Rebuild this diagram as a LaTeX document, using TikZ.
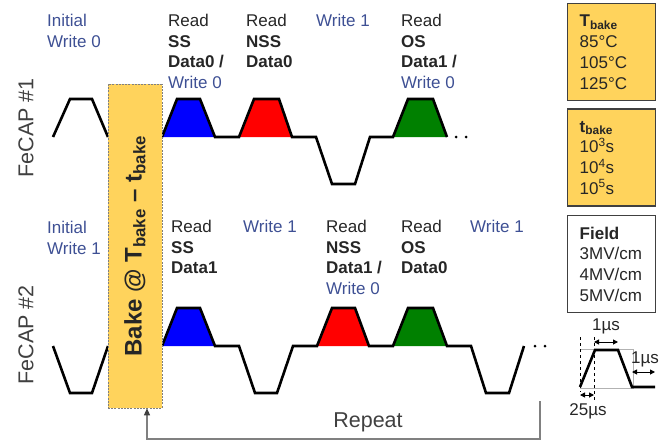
\documentclass[tikz,border=0pt]{standalone}
\usepackage{fontspec}
\setmainfont{Liberation Sans}
\usetikzlibrary{positioning,arrows.meta}

\definecolor{txtdark}{RGB}{38,38,38}
\definecolor{capgray}{RGB}{64,64,64}
\definecolor{wrblue}{RGB}{62,80,148}
\definecolor{bakeyellow}{RGB}{255,211,92}
\definecolor{rptgray}{RGB}{128,128,128}
\definecolor{pgreen}{RGB}{0,128,0}

\tikzset{
	lbl/.style={anchor=north west, inner sep=0pt, align=left, text=txtdark, font=\fontsize{17}{20.7}\selectfont},
	wlbl/.style={lbl, text=wrblue},
	wave/.style={line width=2.6pt, black},
	capname/.style={rotate=90, text=capgray, font=\fontsize{21.5}{24}\selectfont},
	parambox/.style={draw=capgray, line width=1.4pt, minimum width=88pt, minimum height=97pt, text width=64pt, inner xsep=12pt, align=left, text=txtdark, font=\fontsize{17}{20.7}\selectfont},
	bakebar/.style={fill=bakeyellow, draw=gray, dash pattern=on 2pt off 1.2pt, line width=0.6pt, minimum width=54pt, minimum height=324pt, inner sep=0pt, text=txtdark, font=\fontsize{24}{28}\selectfont\bfseries},
	dimarrow/.style={{Triangle[length=5pt,width=5pt]}-{Triangle[length=5pt,width=5pt]}, line width=1pt},
	dimlbl/.style={inner sep=0pt, text=txtdark, font=\fontsize{17}{19}\selectfont}
}

\begin{document}
\begin{tikzpicture}[x=1pt, y=-1pt]
	\useasboundingbox (0,0) rectangle (667,445);

	% FeCAP #1 pulses
	\fill[blue] (162,137) -- (177,99) -- (200,99) -- (215,137) -- cycle;
	\fill[red] (239,137) -- (254,99) -- (279,99) -- (292,137) -- cycle;
	\fill[pgreen] (393,137) -- (408,99) -- (433,99) -- (447,137) -- cycle;
	\draw[wave] (53,137) -- (70,99) -- (92,99) -- (108,137);
	\draw[wave] (162,137) -- (177,99) -- (200,99) -- (215,137) -- (239,137)
		-- (254,99) -- (279,99) -- (292,137) -- (316,137) -- (332,184) -- (355,184)
		-- (370,137) -- (393,137) -- (408,99) -- (433,99) -- (447,137);
	\fill (456,137) circle (1.5) (466,137) circle (1.5);

	% FeCAP #2 pulses
	\fill[blue] (162,346) -- (177,308) -- (200,308) -- (215,346) -- cycle;
	\fill[red] (317,346) -- (332,308) -- (355,308) -- (369,346) -- cycle;
	\fill[pgreen] (393,346) -- (408,308) -- (433,308) -- (447,346) -- cycle;
	\draw[wave] (53,346) -- (70,393) -- (92,393) -- (108,346);
	\draw[wave] (162,346) -- (177,308) -- (200,308) -- (215,346) -- (239,346)
		-- (255,393) -- (277,393) -- (293,346) -- (317,346) -- (332,308) -- (355,308)
		-- (369,346) -- (393,346) -- (408,308) -- (433,308) -- (447,346) -- (471,346)
		-- (486,393) -- (509,393) -- (524,346);
	\fill (535,346) circle (1.5) (545,346) circle (1.5);

	% bake
	\node[bakebar] (bake) at (135,246) {\rotatebox{90}{Bake @ T\textsubscript{bake} – t\textsubscript{bake}}};

	% capacitor names
	\node[capname] (cap1) at (26,128) {FeCAP \#1};
	\node[capname] (cap2) at (26,335) {FeCAP \#2};

	% operations, FeCAP #1
	\node[wlbl] (init1) at (47,13.8) {Initial\\Write 0};
	\node[lbl] (rd1) at (168,13.8) {Read\\\textbf{SS}\\\textbf{Data0 /}\\\textcolor{wrblue}{Write 0}};
	\node[lbl] (rd2) at (246,13.8) {Read\\\textbf{NSS}\\\textbf{Data0}};
	\node[wlbl] (wr1) at (316,13.8) {Write 1};
	\node[lbl] (rd3) at (401,13.8) {Read\\\textbf{OS}\\\textbf{Data1 /}\\\textcolor{wrblue}{Write 0}};

	% operations, FeCAP #2
	\node[wlbl] (init2) at (47,220.8) {Initial\\Write 1};
	\node[lbl] (rd4) at (171,219.8) {Read\\\textbf{SS}\\\textbf{Data1}};
	\node[wlbl] (wr2) at (243,219.8) {Write 1};
	\node[lbl] (rd5) at (326,219.8) {Read\\\textbf{NSS}\\\textbf{Data1 /}\\\textcolor{wrblue}{Write 0}};
	\node[lbl] (rd6) at (401,219.8) {Read\\\textbf{OS}\\\textbf{Data0}};
	\node[wlbl] (wr3) at (470,219.8) {Write 1};

	% conditions
	\node[parambox, fill=bakeyellow, anchor=north west] (tbakebox) at (567,3) {\textbf{T\textsubscript{bake}}\\85°C\\105°C\\125°C};
	\node[parambox, fill=bakeyellow, below=7pt of tbakebox] (tbox) {\textbf{t\textsubscript{bake}}\\10\textsuperscript{3}s\\10\textsuperscript{4}s\\10\textsuperscript{5}s};
	\node[parambox, fill=white, below=8pt of tbox] (fieldbox) {\textbf{Field}\\3MV/cm\\4MV/cm\\5MV/cm};

	% pulse timing
	\draw[black!30, line width=0.8pt] (580,349) -- (633,349) -- (633,388) -- (580,388);
	\draw[black, dashed, line width=0.6pt] (580,337) -- (580,392);
	\draw[black, dashed, line width=0.6pt] (594,337) -- (594,400);
	\draw[wave] (580,387) -- (595,350) -- (618,350) -- (632,387) -- (655,387);
	\coordinate (riseL) at (580,395);
	\coordinate (riseR) at (594,395);
	\coordinate (topL) at (594,342);
	\coordinate (topR) at (618,342);
	\coordinate (fallL) at (632,372);
	\coordinate (fallR) at (655,372);
	\draw[dimarrow] (riseL) -- (riseR);
	\draw[dimarrow] (topL) -- (topR);
	\draw[dimarrow] (fallL) -- (fallR);
	\node[dimlbl] (t25) at (588,411) {25µs};
	\node[dimlbl] (t1a) at (606,326) {1µs};
	\node[dimlbl] (t1b) at (645,359) {1µs};

	% repeat loop
	\coordinate (rptstart) at (540,401);
	\coordinate (bakein) at ([xshift=12pt]bake.south);
	\draw[rptgray, line width=1.2pt, -{Triangle[length=7pt,width=6pt,color=capgray]}] (rptstart) -- ++(0,38) -| (bakein);
	\node[text=capgray, font=\fontsize{21.5}{24}\selectfont] (rpt) at (368,422) {Repeat};
\end{tikzpicture}
\end{document}
